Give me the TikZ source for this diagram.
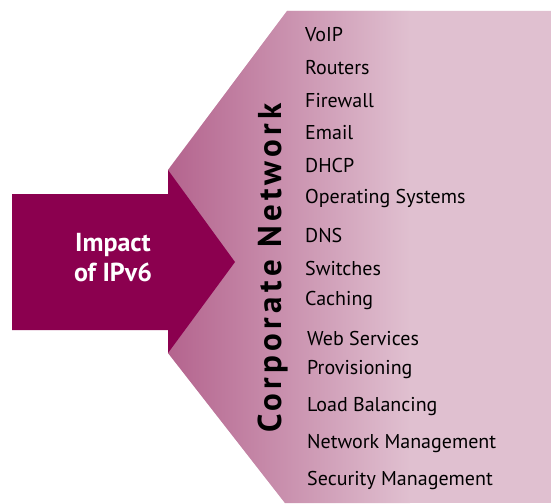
\documentclass[tikz,border=0pt]{standalone}
\usepackage{fontspec}
\setmainfont{PT Sans}
\newfontfamily\cnfont[LetterSpace=13]{PT Sans}
\definecolor{arrowc}{RGB}{139,0,79}
\definecolor{darkp}{RGB}{180,100,142}
\definecolor{lightp}{RGB}{224,192,208}
\begin{document}
\begin{tikzpicture}[x=1pt,y=-1pt,
  item/.style={anchor=west,inner sep=0pt,font=\fontsize{20}{20}\selectfont,text=black}]
\useasboundingbox (0,0) rectangle (551,503);
\begin{scope}
  \clip (287,11) -- (551,11) -- (551,503) -- (285,503) -- (168,353) -- (168,170) -- cycle;
  \fill[lightp] (160,0) rectangle (551,503);
  \shade[left color=darkp,right color=lightp] (168,0) rectangle (410,503);
\end{scope}
\fill[arrowc] (12,194) -- (168,194) -- (168,170) -- (235,262) -- (168,353) -- (168,330) -- (12,330) -- cycle;
\node[text=white,align=center,font=\bfseries\fontsize{26}{30}\selectfont] (imp) at (113,258) {Impact\\of IPv6};
\node[rotate=90,font=\cnfont\bfseries\fontsize{33}{33}\selectfont] (cn) at (273,268) {Corporate Network};
\node[item] (i1) at (305,35) {VoIP};
\node[item] (i2) at (305,68) {Routers};
\node[item] (i3) at (305,101) {Firewall};
\node[item] (i4) at (305,133) {Email};
\node[item] (i5) at (305,165) {DHCP};
\node[item] (i6) at (305,198) {Operating Systems};
\node[item] (i7) at (305,235) {DNS};
\node[item] (i8) at (305,268) {Switches};
\node[item] (i9) at (305,300) {Caching};
\node[item] (i10) at (307,338) {Web Services};
\node[item] (i11) at (307,370) {Provisioning};
\node[item] (i12) at (307,407) {Load Balancing};
\node[item] (i13) at (307,444) {Network Management};
\node[item] (i14) at (307,480) {Security Management};
\end{tikzpicture}
\end{document}
